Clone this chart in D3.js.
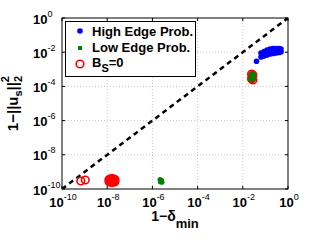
<!DOCTYPE html>
<html>
<head>
<meta charset="utf-8">
<script src="https://cdn.jsdelivr.net/npm/d3@7"></script>
<style>
  body { margin: 0; background: #fff; }
  svg text { font-family: "Liberation Sans", Arial, sans-serif; }
</style>
</head>
<body>
<div id="chart"></div>
<script>
// values (x = 1-delta_min, y = 1-||u_s||_2^2)
let highX = [4.04e-2,
             6.38e-2, 8.67e-2, 0.118, 0.160, 0.217, 0.294, 0.400, 0.490,
             6.38e-2, 8.67e-2, 0.118, 0.160, 0.217, 0.294, 0.400, 0.490,
             7.45e-2, 0.101, 0.137, 0.186, 0.253, 0.343, 0.443]
let highY = [2.94e-3,
             8.98e-3, 1.10e-2, 1.34e-2, 1.54e-2, 1.65e-2, 1.65e-2, 1.65e-2, 1.54e-2,
             5.24e-3, 6.0e-3, 6.86e-3, 7.85e-3, 8.4e-3, 8.98e-3, 9.6e-3, 1.03e-2,
             6.86e-3, 8.4e-3, 1.03e-2, 1.17e-2, 1.17e-2, 1.26e-2, 1.26e-2]

let lowX = [2.55e-2, 2.83e-2, 2.55e-2, 2.31e-2, 2.83e-2, 3.13e-2, 2.31e-2, 2.55e-2,
            2.17e-6, 2.53e-6, 2.28e-6, 2.66e-6, 2.4e-6]
let lowY = [5.3e-4, 4.06e-4, 3.1e-4, 2.71e-4, 2.71e-4, 4.64e-4, 4.06e-4, 2.37e-4,
            3.6e-10, 3.2e-10, 2.6e-10, 2.45e-10, 3.1e-10]

let zeroX = [2.45e-2, 2.8e-2, 2.6e-2, 2.45e-2, 2.8e-2, 2.6e-2,
             1.2e-8, 1.4e-8, 1.63e-8, 1.9e-8, 2.21e-8, 1.2e-8, 1.4e-8, 1.63e-8, 1.9e-8, 2.21e-8,
             1.3e-8, 1.75e-8, 2.05e-8, 6.8e-10, 1.07e-9]
let zeroY = [5.3e-4, 4.64e-4, 3.55e-4, 2.71e-4, 2.37e-4, 4.06e-4,
             3.6e-10, 3.9e-10, 4.1e-10, 3.9e-10, 3.6e-10, 2.7e-10, 2.5e-10, 2.45e-10, 2.5e-10, 2.7e-10,
             3.2e-10, 3.2e-10, 3.2e-10, 2.94e-10, 3.36e-10]

let tickExp = [-10, -8, -6, -4, -2, 0]
let legendNames = ["High Edge Prob.", "Low Edge Prob.", "B"]

const width = 319, height = 240
const margin = {left: 62, right: 31, top: 18, bottom: 51}

let svg = d3.select("#chart").append("svg")
    .attr("width", width)
    .attr("height", height)

let x = d3.scaleLog().domain([1e-10, 1]).range([margin.left, width - margin.right])
let y = d3.scaleLog().domain([1e-10, 1]).range([height - margin.bottom, margin.top])
let tickVals = tickExp.map(e => Math.pow(10, e))

// grid
let inner = tickVals.slice(1, -1)
svg.append("g").selectAll("line.gx").data(inner).enter().append("line")
    .attr("x1", d => x(d)).attr("x2", d => x(d))
    .attr("y1", y.range()[0]).attr("y2", y.range()[1])
    .attr("stroke", "#bbb").attr("stroke-width", 0.8).attr("stroke-dasharray", "1,2")
svg.append("g").selectAll("line.gy").data(inner).enter().append("line")
    .attr("y1", d => y(d)).attr("y2", d => y(d))
    .attr("x1", x.range()[0]).attr("x2", x.range()[1])
    .attr("stroke", "#bbb").attr("stroke-width", 0.8).attr("stroke-dasharray", "1,2")

svg.append("clipPath").attr("id", "clip").append("rect")
    .attr("x", margin.left).attr("y", margin.top)
    .attr("width", x.range()[1] - margin.left).attr("height", y.range()[0] - margin.top)

let plot = svg.append("g").attr("clip-path", "url(#clip)")

// y = x reference line
plot.append("line")
    .attr("x1", x(1e-10)).attr("y1", y(1e-10))
    .attr("x2", x(1)).attr("y2", y(1))
    .attr("stroke", "#000").attr("stroke-width", 2.5).attr("stroke-dasharray", "5,4")

// high edge probability (blue dots)
plot.append("g").selectAll("circle").data(highX).enter().append("circle")
    .attr("cx", d => x(d)).attr("cy", (d, i) => y(highY[i]))
    .attr("r", 2.8).attr("fill", "#0000ff")

// B_S = 0 (red open circles)
plot.append("g").selectAll("circle").data(zeroX).enter().append("circle")
    .attr("cx", d => x(d)).attr("cy", (d, i) => y(zeroY[i]))
    .attr("r", 3.8).attr("fill", "none").attr("stroke", "#ff0000").attr("stroke-width", 1.6)

// low edge probability (green)
plot.append("g").selectAll("circle").data(lowX).enter().append("circle")
    .attr("cx", d => x(d)).attr("cy", (d, i) => y(lowY[i]))
    .attr("r", 2.5).attr("fill", "#008000")

// axes box + inward ticks
let x0 = x.range()[0], x1 = x.range()[1], y0 = y.range()[0], y1 = y.range()[1]
svg.append("rect").attr("x", x0).attr("y", y1).attr("width", x1 - x0).attr("height", y0 - y1)
    .attr("fill", "none").attr("stroke", "#000").attr("stroke-width", 1)
let tk = svg.append("g").attr("stroke", "#000").attr("stroke-width", 1)
tickVals.forEach(function (v) {
    tk.append("line").attr("x1", x(v)).attr("x2", x(v)).attr("y1", y0).attr("y2", y0 - 3)
    tk.append("line").attr("x1", x(v)).attr("x2", x(v)).attr("y1", y1).attr("y2", y1 + 3)
    tk.append("line").attr("y1", y(v)).attr("y2", y(v)).attr("x1", x0).attr("x2", x0 + 3)
    tk.append("line").attr("y1", y(v)).attr("y2", y(v)).attr("x1", x1).attr("x2", x1 - 3)
})

// tick labels 10^n
function powLabel(sel, e) {
    sel.append("tspan").text("10").attr("font-size", 13).attr("font-weight", "bold")
    sel.append("tspan").text(String(e)).attr("font-size", 9).attr("dy", -7)
}
tickExp.forEach(function (e) {
    let t = svg.append("text").attr("x", x(Math.pow(10, e)) + 1).attr("y", y0 + 18)
        .attr("text-anchor", "middle").attr("fill", "#000")
    powLabel(t, e)
    let u = svg.append("text").attr("x", 33).attr("y", y(Math.pow(10, e)) + 5.5).attr("fill", "#000")
    powLabel(u, e)
})

// axis titles
let xl = svg.append("text").attr("x", (x0 + x1) / 2).attr("y", 220.5)
    .attr("text-anchor", "middle").attr("font-weight", "bold").attr("font-size", 14)
xl.append("tspan").text("1\u2212\u03b4")
xl.append("tspan").text("min").attr("font-size", 13).attr("dy", 7)

let yl = svg.append("text").attr("transform", "translate(18," + (y0 + y1) / 2 + ") rotate(-90)")
    .attr("text-anchor", "middle").attr("font-weight", "bold").attr("font-size", 15)
yl.append("tspan").text("1\u2212||u")
yl.append("tspan").text("s").attr("font-size", 11).attr("dy", 4)
yl.append("tspan").text("||").attr("dy", -4)
yl.append("tspan").text("2").attr("font-size", 11).attr("dy", 4)
yl.append("tspan").text("2").attr("font-size", 11).attr("dx", -6.5).attr("dy", -13)

// legend
let lg = svg.append("g")
lg.append("rect").attr("x", 65.5).attr("y", 21.5).attr("width", 130).attr("height", 55)
    .attr("fill", "#fff").attr("stroke", "#000").attr("stroke-width", 1)
lg.append("circle").attr("cx", 80).attr("cy", 31).attr("r", 2.8).attr("fill", "#0000ff")
lg.append("rect").attr("x", 78).attr("y", 46).attr("width", 4).attr("height", 4).attr("fill", "#008000")
lg.append("circle").attr("cx", 80).attr("cy", 64).attr("r", 3.8)
    .attr("fill", "none").attr("stroke", "#ff0000").attr("stroke-width", 1.6)
lg.append("text").attr("x", 92).attr("y", 35.5).attr("font-size", 13).attr("font-weight", "bold").text(legendNames[0])
lg.append("text").attr("x", 92).attr("y", 52).attr("font-size", 13).attr("font-weight", "bold").text(legendNames[1])
let bs = lg.append("text").attr("x", 92).attr("y", 67).attr("font-size", 13).attr("font-weight", "bold")
bs.append("tspan").text(legendNames[2])
bs.append("tspan").text("S").attr("font-size", 11).attr("dy", 5)
bs.append("tspan").text("=0").attr("dy", -5)
</script>
</body>
</html>
